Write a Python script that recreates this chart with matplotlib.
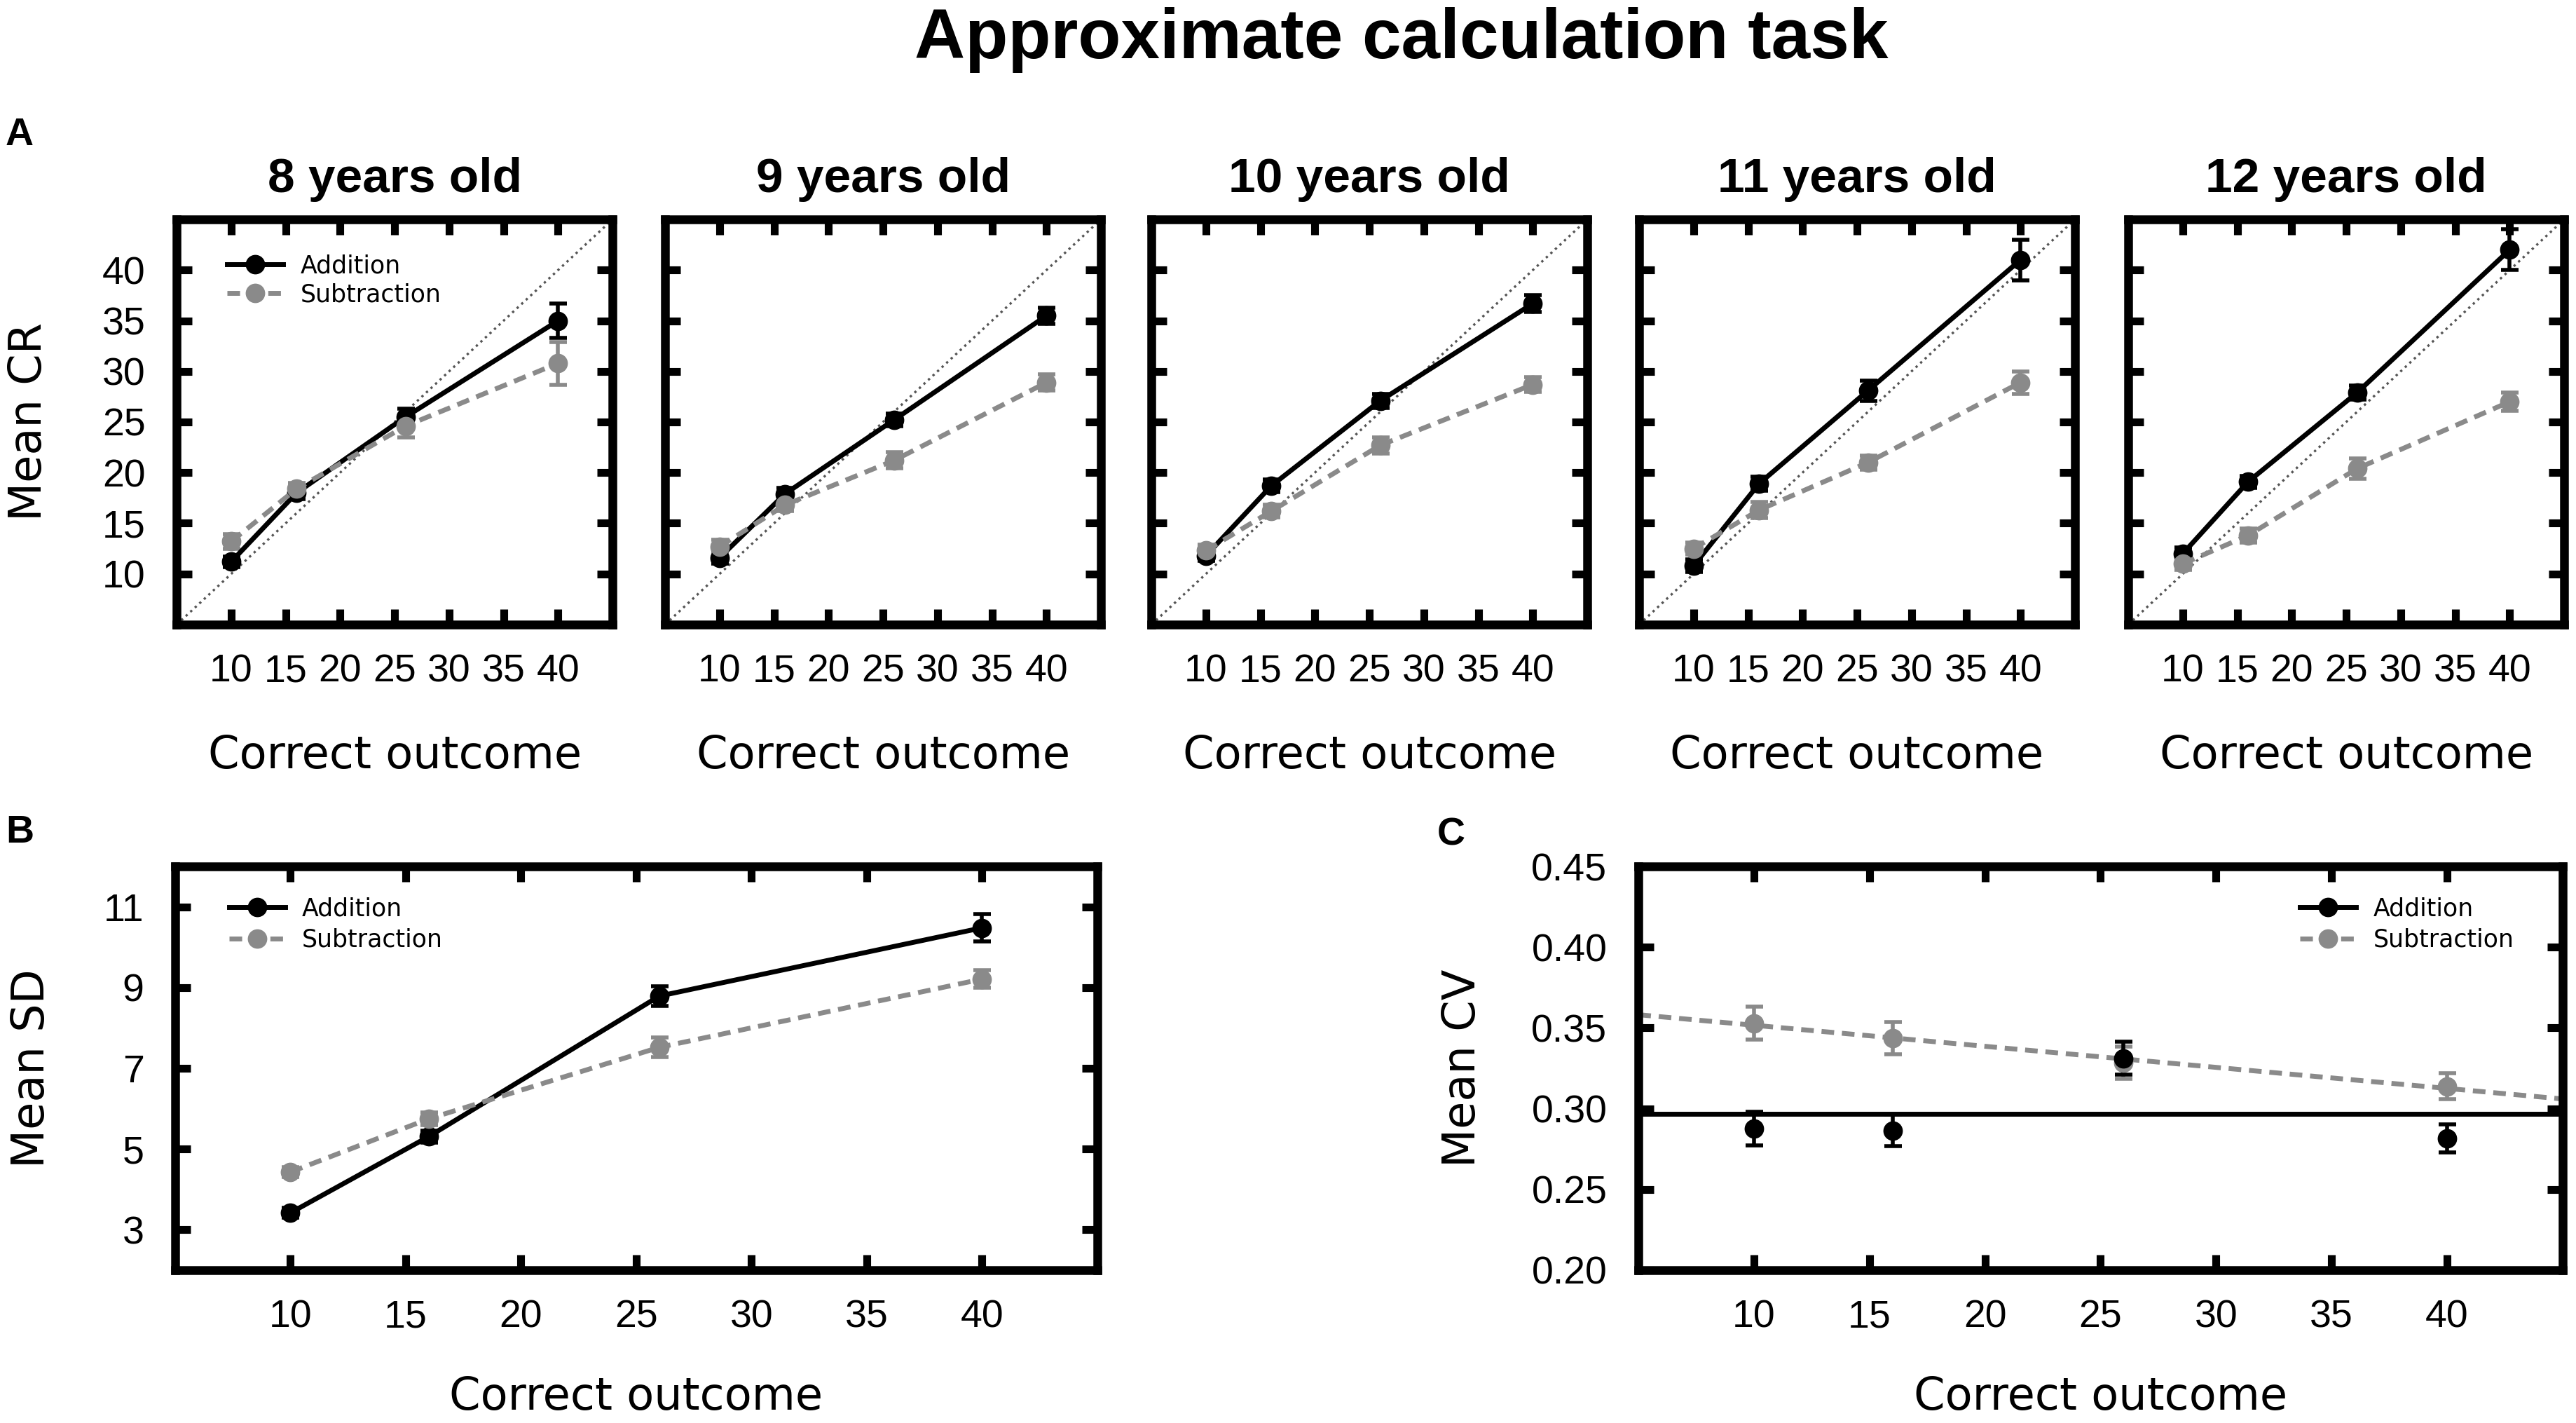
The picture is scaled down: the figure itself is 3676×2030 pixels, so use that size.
import numpy as np
import matplotlib
matplotlib.use('Agg')
import matplotlib.pyplot as plt

plt.rcParams['font.family'] = 'DejaVu Sans'

# correct outcomes tested
outcomes = [10, 16, 26, 40]

# panel A: mean CR per age group
ages = ['8 years old', '9 years old', '10 years old', '11 years old', '12 years old']
add_cr = [[11.2, 18.0, 25.5, 35.0],
          [11.6, 17.9, 25.2, 35.5],
          [11.8, 18.7, 27.1, 36.7],
          [10.8, 18.9, 28.1, 41.0],
          [12.0, 19.1, 27.9, 42.0]]
add_cr_err = [[0.5, 0.6, 0.8, 1.7],
              [0.6, 0.6, 0.6, 0.8],
              [0.5, 0.6, 0.7, 0.8],
              [0.6, 0.7, 1.0, 2.0],
              [0.6, 0.6, 0.7, 2.0]]
sub_cr = [[13.2, 18.4, 24.6, 30.8],
          [12.7, 16.8, 21.2, 28.9],
          [12.3, 16.2, 22.7, 28.7],
          [12.5, 16.3, 21.0, 28.9],
          [11.0, 13.8, 20.4, 27.0]]
sub_cr_err = [[0.7, 0.6, 1.1, 2.1],
              [0.7, 0.6, 0.8, 0.8],
              [0.6, 0.6, 0.8, 0.7],
              [0.6, 0.8, 0.7, 1.1],
              [0.6, 0.7, 1.0, 0.9]]

# panel B: mean SD
add_sd = [3.42, 5.31, 8.79, 10.48]
add_sd_err = [0.12, 0.15, 0.25, 0.34]
sub_sd = [4.43, 5.75, 7.52, 9.21]
sub_sd_err = [0.12, 0.15, 0.25, 0.22]

# panel C: mean CV
add_cv = [0.2875, 0.2865, 0.3313, 0.2817]
add_cv_err = [0.0104, 0.0098, 0.0104, 0.0087]
sub_cv = [0.353, 0.3435, 0.3286, 0.3138]
sub_cv_err = [0.010, 0.010, 0.010, 0.008]

black = 'black'
grey = '#8a8a8a'
tickfont = 'Liberation Sans'
dash = (0, (2.6, 1.6))

fig = plt.figure(figsize=(18.38, 10.15), dpi=200)


def style_axes(ax, ylim, yticks, yfmt=None):
    ax.set_xlim(5, 45)
    ax.set_ylim(*ylim)
    ax.set_xticks([10, 15, 20, 25, 30, 35, 40])
    ax.set_yticks(yticks)
    if yfmt:
        ax.set_yticklabels([yfmt % v for v in yticks])
    for s in ax.spines.values():
        s.set_linewidth(4.5)
    ax.tick_params(direction='in', top=True, right=True, length=8, width=4,
                   labelsize=20, labelfontfamily=tickfont)
    ax.tick_params(axis='x', pad=15)
    ax.tick_params(axis='y', pad=16)


def series(ax, y, err, color, ls):
    eb = ax.errorbar(outcomes, y, yerr=err, color=color, ls=ls, lw=2.5,
                     marker='o', ms=9, capsize=4.5, elinewidth=2, capthick=2)
    return eb.lines[0]


lefts = [0.0686, 0.2582, 0.4470, 0.6363, 0.8262]
for i in range(5):
    ax = fig.add_axes([lefts[i], 0.5611, 0.1692, 0.2847])
    ax.axline((0, 0), slope=1, color='#555555', ls=':', lw=1.2)
    h1 = series(ax, add_cr[i], add_cr_err[i], black, '-')
    h2 = series(ax, sub_cr[i], sub_cr_err[i], grey, dash)
    style_axes(ax, (5, 45), [10, 15, 20, 25, 30, 35, 40])
    ax.set_title(ages[i], fontsize=25, fontweight='bold', family='Liberation Sans', pad=14)
    ax.set_xlabel('Correct outcome', fontsize=23)
    ax.xaxis.set_label_coords(0.5, -0.27)
    if i == 0:
        ax.set_ylabel('Mean CR', fontsize=23)
        ax.yaxis.set_label_coords(-0.29, 0.5)
        ax.legend([h1, h2], ['Addition', 'Subtraction'], loc='upper left',
                  bbox_to_anchor=(0.116, 0.915), frameon=False, fontsize=12.5,
                  handlelength=2.3, handletextpad=0.7, labelspacing=0.2,
                  borderpad=0, borderaxespad=0)
    else:
        ax.tick_params(labelleft=False)

# panel B
axb = fig.add_axes([0.0680, 0.1074, 0.358, 0.2837])
h1 = series(axb, add_sd, add_sd_err, black, '-')
h2 = series(axb, sub_sd, sub_sd_err, grey, dash)
style_axes(axb, (2, 12), [3, 5, 7, 9, 11])
axb.set_xlabel('Correct outcome', fontsize=23)
axb.xaxis.set_label_coords(0.5, -0.26)
axb.set_ylabel('Mean SD', fontsize=23)
axb.yaxis.set_label_coords(-0.132, 0.5)
axb.legend([h1, h2], ['Addition', 'Subtraction'], loc='upper left',
           bbox_to_anchor=(0.0585, 0.925), frameon=False, fontsize=12.5,
           handlelength=2.3, handletextpad=0.7, labelspacing=0.3,
           borderpad=0, borderaxespad=0)

# panel C: points with fitted lines
axc = fig.add_axes([0.636, 0.1074, 0.3588, 0.2837])
xfit = np.array([5, 45])
add_fit = np.polyfit(outcomes, add_cv, 0)
sub_fit = np.polyfit(outcomes, sub_cv, 1)
l1, = axc.plot(xfit, np.polyval(add_fit, xfit), color=black, lw=2.5)
l2, = axc.plot(xfit, np.polyval(sub_fit, xfit), color=grey, lw=2.5, ls=dash)
e2 = axc.errorbar(outcomes, sub_cv, yerr=sub_cv_err, color=grey, ls='none',
                  marker='o', ms=9, capsize=4.5, elinewidth=2, capthick=2)
e1 = axc.errorbar(outcomes, add_cv, yerr=add_cv_err, color=black, ls='none',
                  marker='o', ms=9, capsize=4.5, elinewidth=2, capthick=2)
style_axes(axc, (0.2, 0.45), [0.20, 0.25, 0.30, 0.35, 0.40, 0.45], '%.2f')
axc.set_xlabel('Correct outcome', fontsize=23)
axc.xaxis.set_label_coords(0.5, -0.26)
axc.set_ylabel('Mean CV', fontsize=23)
axc.yaxis.set_label_coords(-0.167, 0.5)
axc.legend([(l1, e1.lines[0]), (l2, e2.lines[0])], ['Addition', 'Subtraction'],
           loc='upper left', bbox_to_anchor=(0.716, 0.925), frameon=False,
           fontsize=12.5, handlelength=2.3, handletextpad=0.7, labelspacing=0.3,
           borderpad=0, borderaxespad=0)

fig.text(0.544, 0.972, 'Approximate calculation task', ha='center', va='center',
         fontsize=36, fontweight='bold', family='Liberation Sans')
fig.text(0.0076, 0.905, 'A', ha='center', va='center', fontsize=20,
         fontweight='bold', family='Liberation Sans')
fig.text(0.0076, 0.415, 'B', ha='center', va='center', fontsize=20,
         fontweight='bold', family='Liberation Sans')
fig.text(0.5634, 0.413, 'C', ha='center', va='center', fontsize=20,
         fontweight='bold', family='Liberation Sans')

fig.savefig('out.png', dpi=200)
